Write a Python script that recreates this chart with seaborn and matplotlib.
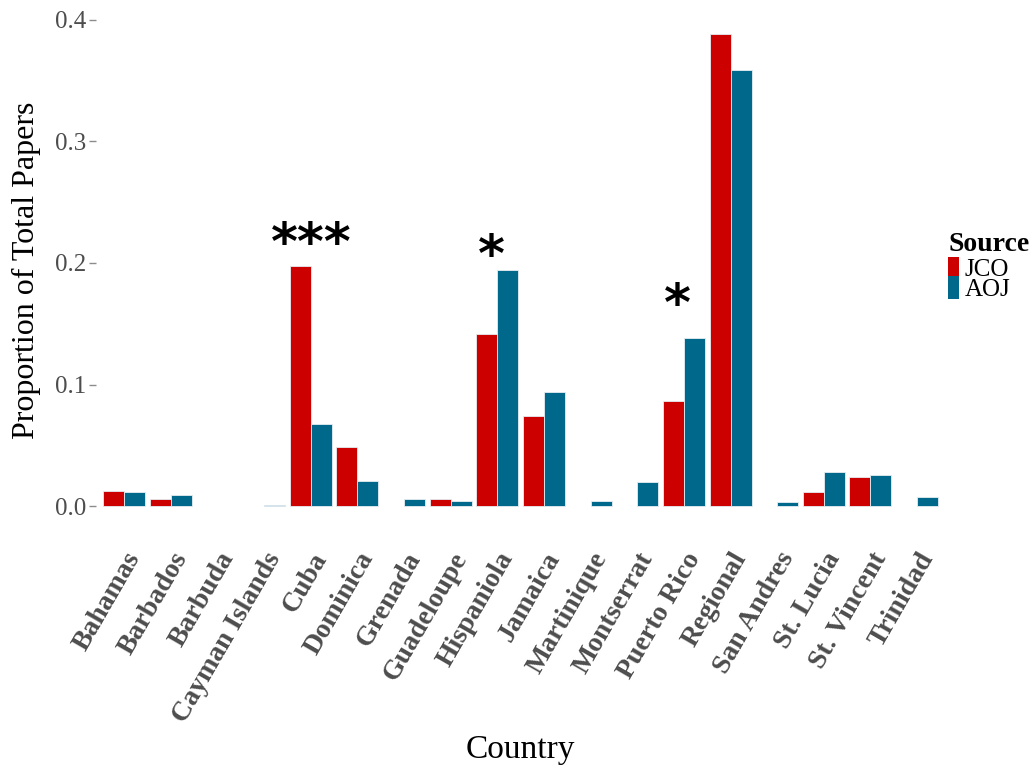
import numpy as np
import pandas as pd
import matplotlib
matplotlib.use("Agg")
import matplotlib.pyplot as plt
import seaborn as sns

countries = ["Bahamas", "Barbados", "Barbuda", "Cayman Islands", "Cuba", "Dominica",
             "Grenada", "Guadeloupe", "Hispaniola", "Jamaica", "Martinique", "Montserrat",
             "Puerto Rico", "Regional", "San Andres", "St. Lucia", "St. Vincent", "Trinidad"]
jco = [0.0123, 0.0060, np.nan, np.nan, 0.1975, 0.0490,
       np.nan, 0.0060, 0.1416, 0.0740, np.nan, np.nan,
       0.0864, 0.3885, np.nan, 0.0120, 0.0244, np.nan]
aoj = [0.0115, 0.0096, np.nan, 0.0010, 0.0680, 0.0210,
       0.0058, 0.0044, 0.1940, 0.0940, 0.0047, 0.0200,
       0.1380, 0.3590, 0.0033, 0.0280, 0.0260, 0.0080]
sources = ["JCO", "AOJ"]
palette = {"JCO": "#CD0000", "AOJ": "#00688B"}

# significance marks: (category, x offset, height, label)
sig_marks = [("Cuba", 0.0, 0.2145, "***"),
             ("Hispaniola", -0.12, 0.2045, "*"),
             ("Puerto Rico", -0.15, 0.1645, "*")]

df = pd.DataFrame({
    "Country": countries * 2,
    "Source": ["JCO"] * len(countries) + ["AOJ"] * len(countries),
    "Proportion": jco + aoj,
})

sns.set_theme(style="white")
plt.rcParams["font.family"] = ["Liberation Serif", "DejaVu Serif"]
plt.rcParams["text.color"] = "black"

fig = plt.figure(figsize=(10.34, 7.68), dpi=100)
ax = fig.add_axes([0.093, 0.31, 0.821, 0.677])

sns.barplot(data=df, x="Country", y="Proportion", hue="Source", order=countries,
            hue_order=sources, palette=palette, width=0.9, errorbar=None,
            saturation=1, edgecolor="#e6eef2", linewidth=0.6, ax=ax, legend=False)

ax.set_xlim(-0.6, len(countries) - 0.4)
ymax = np.nanmax(jco + aoj)
ax.set_ylim(-0.05 * ymax, ymax * 1.05)
ax.set_yticks([0.0, 0.1, 0.2, 0.3, 0.4])
ax.set_yticklabels(["0.0", "0.1", "0.2", "0.3", "0.4"])

for s in ax.spines.values():
    s.set_visible(False)
ax.grid(False)

ax.tick_params(axis="y", left=True, length=5, width=1, color="#8c8c8c",
               labelsize=18, labelcolor="#4D4D4D", pad=2)
ax.tick_params(axis="x", bottom=False, length=0, pad=13)
for lab in ax.get_xticklabels():
    lab.set_rotation(60)
    lab.set_ha("right")
    lab.set_va("top")
    lab.set_rotation_mode("anchor")
    lab.set_fontsize(20)
    lab.set_fontweight("bold")
    lab.set_color("#4D4D4D")

ax.set_xlabel("Country", fontsize=24, color="black")
ax.xaxis.label.set_va("center")
ax.xaxis.set_label_coords(0.5, -0.423)
ax.set_ylabel("Proportion of Total Papers", fontsize=23, color="black", labelpad=10)

for cat, dx, h, txt in sig_marks:
    ax.text(countries.index(cat) + dx, h, txt, ha="center", va="center",
            fontsize=37, fontweight="bold", family="DejaVu Sans", color="black")

handles = [matplotlib.patches.Patch(facecolor=palette[s], edgecolor="none") for s in sources]
leg = fig.legend(handles, sources, loc="upper left", bbox_to_anchor=(0.912, 0.705),
                 frameon=False, title="Source", fontsize=18,
                 handlelength=0.45, handleheight=1.0, labelspacing=-0.2,
                 handletextpad=0.2, borderaxespad=0.0, borderpad=0.2)
leg.get_title().set_fontweight("bold")
leg.get_title().set_fontsize(20)
leg.get_title().set_color("black")
for t in leg.get_texts():
    t.set_color("black")
leg._legend_box.align = "left"
leg._legend_box.sep = 0

fig.savefig("out.png", dpi=100, facecolor="white")
